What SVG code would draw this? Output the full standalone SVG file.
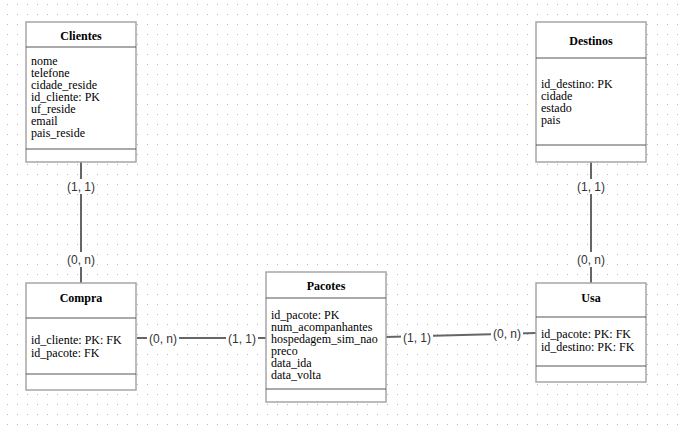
<svg xmlns="http://www.w3.org/2000/svg" width="678" height="427" viewBox="0 0 678 427">
  <defs>
    <pattern id="grid" x="7" y="4" width="10" height="10" patternUnits="userSpaceOnUse">
      <rect x="0" y="0" width="1" height="1" fill="#b8b8b8"/>
    </pattern>
    <style>
      .box { fill: #ffffff; stroke: #a6a6a6; stroke-width: 1.5; }
      .sep { stroke: #555555; stroke-width: 1; }
      .title { font-family: "Liberation Serif", "Times New Roman", serif; font-size: 12px; font-weight: bold; fill: #000; text-anchor: middle; }
      .attr { font-family: "Liberation Serif", "Times New Roman", serif; font-size: 12px; fill: #000; }
      .edge { stroke: #666666; stroke-width: 2; fill: none; }
      .lblbg { fill: #ffffff; }
      .lbl { font-family: "Liberation Sans", Arial, sans-serif; font-size: 12px; fill: #333333; text-anchor: middle; }
    </style>
  </defs>

  <rect width="678" height="427" fill="#ffffff"/>
  <rect width="678" height="427" fill="url(#grid)"/>

  <!-- connectors between entities and relationships -->
  <g id="connectors">
    <line class="edge" x1="81" y1="162" x2="81" y2="283"/>
    <line class="edge" x1="591" y1="162" x2="591" y2="283"/>
    <line class="edge" x1="137" y1="338" x2="266" y2="338"/>
    <line class="edge" x1="386" y1="337" x2="536" y2="333"/>

    <rect class="lblbg" x="65" y="179" width="32" height="15"/>
    <text class="lbl" x="81" y="191">(1, 1)</text>
    <rect class="lblbg" x="65" y="252" width="32" height="15"/>
    <text class="lbl" x="81" y="264">(0, n)</text>

    <rect class="lblbg" x="575" y="179" width="32" height="15"/>
    <text class="lbl" x="591" y="191">(1, 1)</text>
    <rect class="lblbg" x="575" y="252" width="32" height="15"/>
    <text class="lbl" x="591" y="264">(0, n)</text>

    <rect class="lblbg" x="147" y="331" width="32" height="15"/>
    <text class="lbl" x="163" y="343">(0, n)</text>
    <rect class="lblbg" x="226" y="331" width="32" height="15"/>
    <text class="lbl" x="242" y="343">(1, 1)</text>

    <rect class="lblbg" x="401" y="330" width="32" height="15"/>
    <text class="lbl" x="417" y="342">(1, 1)</text>
    <rect class="lblbg" x="491" y="326" width="32" height="15"/>
    <text class="lbl" x="507" y="338">(0, n)</text>
  </g>

  <g id="clientes">
    <rect class="box" x="26" y="22" width="110" height="140"/>
    <line class="sep" x1="26" y1="47" x2="136" y2="47"/>
    <line class="sep" x1="26" y1="149" x2="136" y2="149"/>
    <text class="title" x="81" y="40">Clientes</text>
    <text class="attr" x="31" y="65">nome</text>
    <text class="attr" x="31" y="77">telefone</text>
    <text class="attr" x="31" y="89">cidade_reside</text>
    <text class="attr" x="31" y="101">id_cliente: PK</text>
    <text class="attr" x="31" y="113">uf_reside</text>
    <text class="attr" x="31" y="125">email</text>
    <text class="attr" x="31" y="137">pais_reside</text>
  </g>

  <g id="destinos">
    <rect class="box" x="536" y="22" width="110" height="140"/>
    <line class="sep" x1="536" y1="58" x2="646" y2="58"/>
    <line class="sep" x1="536" y1="145" x2="646" y2="145"/>
    <text class="title" x="591" y="45">Destinos</text>
    <text class="attr" x="541" y="88">id_destino: PK</text>
    <text class="attr" x="541" y="100">cidade</text>
    <text class="attr" x="541" y="112">estado</text>
    <text class="attr" x="541" y="124">pais</text>
  </g>

  <g id="compra">
    <rect class="box" x="26" y="283" width="110" height="107"/>
    <line class="sep" x1="26" y1="318" x2="136" y2="318"/>
    <line class="sep" x1="26" y1="374" x2="136" y2="374"/>
    <text class="title" x="81" y="302">Compra</text>
    <text class="attr" x="31" y="344">id_cliente: PK: FK</text>
    <text class="attr" x="31" y="357">id_pacote: FK</text>
  </g>

  <g id="pacotes">
    <rect class="box" x="266" y="272" width="120" height="130"/>
    <line class="sep" x1="266" y1="298" x2="386" y2="298"/>
    <line class="sep" x1="266" y1="389" x2="386" y2="389"/>
    <text class="title" x="326" y="290">Pacotes</text>
    <text class="attr" x="271" y="319">id_pacote: PK</text>
    <text class="attr" x="271" y="331">num_acompanhantes</text>
    <text class="attr" x="271" y="343">hospedagem_sim_nao</text>
    <text class="attr" x="271" y="355">preco</text>
    <text class="attr" x="271" y="367">data_ida</text>
    <text class="attr" x="271" y="379">data_volta</text>
  </g>

  <g id="usa">
    <rect class="box" x="536" y="283" width="110" height="99"/>
    <line class="sep" x1="536" y1="317" x2="646" y2="317"/>
    <line class="sep" x1="536" y1="366" x2="646" y2="366"/>
    <text class="title" x="591" y="302">Usa</text>
    <text class="attr" x="541" y="338">id_pacote: PK: FK</text>
    <text class="attr" x="541" y="351">id_destino: PK: FK</text>
  </g>
</svg>
